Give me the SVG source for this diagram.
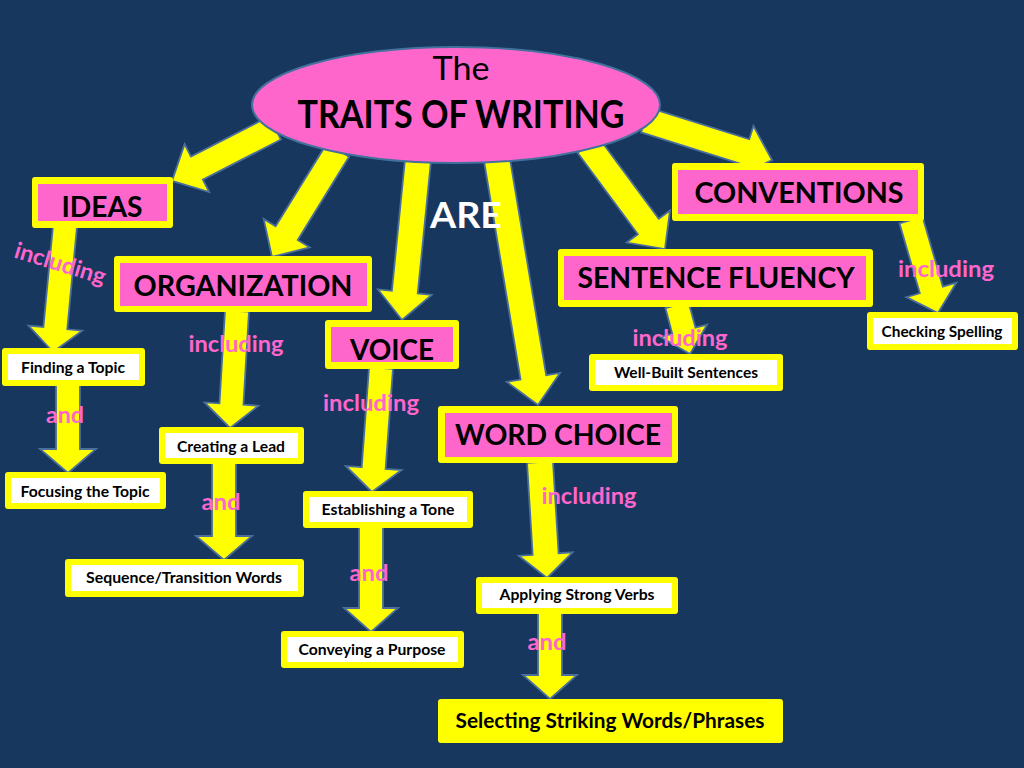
<svg xmlns="http://www.w3.org/2000/svg" width="1024" height="768" viewBox="0 0 1024 768">
<style>
.bg{fill:#17375E}
.arr{fill:#FFFF00;stroke:#4A6F9C;stroke-width:1.8;stroke-linejoin:miter}
.ybox{fill:#FFFF00}
.pink{fill:#FF66CC}
.white{fill:#FFFFFF}
.big{font-family:Lato,"Liberation Sans",sans-serif;font-weight:bold;font-size:29px;fill:#000;text-anchor:middle}
.small{font-family:Lato,"Liberation Sans",sans-serif;font-weight:bold;font-size:15.5px;fill:#000;text-anchor:middle}
.lbl{font-family:Lato,"Liberation Sans",sans-serif;font-weight:bold;font-size:23px;fill:#FF66CC;text-anchor:middle}
</style>
<rect class="bg" x="0" y="0" width="1024" height="768"/>
<g id="connectors">
<polygon class="arr" transform="translate(275,128) rotate(152.8)" points="0,-13 87.8,-13 87.8,-27 115.8,0 87.8,27 87.8,13 0,13"/>
<polygon class="arr" transform="translate(338,150) rotate(121.7)" points="0,-13 97.7,-13 97.7,-27 125.7,0 97.7,27 97.7,13 0,13"/>
<polygon class="arr" transform="translate(418,160) rotate(95.7)" points="0,-13 132.8,-13 132.8,-27 160.8,0 132.8,27 132.8,13 0,13"/>
<polygon class="arr" transform="translate(497,160) rotate(80.5)" points="0,-13 220.4,-13 220.4,-27 248.4,0 220.4,27 220.4,13 0,13"/>
<polygon class="arr" transform="translate(588,145) rotate(53.5)" points="0,-13 101.4,-13 101.4,-27 129.4,0 101.4,27 101.4,13 0,13"/>
<polygon class="arr" transform="translate(645,120) rotate(17.5)" points="0,-13 105.2,-13 105.2,-27 133.2,0 105.2,27 105.2,13 0,13"/>
<polygon class="arr" transform="translate(65,226) rotate(95.4)" points="0,-12 102.6,-12 102.6,-27 126.6,0 102.6,27 102.6,12 0,12"/>
<polygon class="arr" transform="translate(68,385) rotate(90)" points="0,-12 64,-12 64,-28 88,0 64,28 64,12 0,12"/>
<polygon class="arr" transform="translate(237,311) rotate(93.4)" points="0,-12 93.2,-12 93.2,-27 117.2,0 93.2,27 93.2,12 0,12"/>
<polygon class="arr" transform="translate(224,463) rotate(90)" points="0,-12 73,-12 73,-28 97,0 73,28 73,12 0,12"/>
<polygon class="arr" transform="translate(381,368) rotate(94.2)" points="0,-12 100.3,-12 100.3,-28 124.3,0 100.3,28 100.3,12 0,12"/>
<polygon class="arr" transform="translate(371,527) rotate(90)" points="0,-12 81,-12 81,-27 105,0 81,27 81,12 0,12"/>
<polygon class="arr" transform="translate(540,462) rotate(86.5)" points="0,-13 92.2,-13 92.2,-27 116.2,0 92.2,27 92.2,13 0,13"/>
<polygon class="arr" transform="translate(550,613) rotate(90)" points="0,-12 62,-12 62,-27 86,0 62,27 62,12 0,12"/>
<polygon class="arr" transform="translate(677,305) rotate(75.1)" points="0,-12 26.7,-12 26.7,-24 50.7,0 26.7,24 26.7,12 0,12"/>
<polygon class="arr" transform="translate(911,220) rotate(73.8)" points="0,-12 72.8,-12 72.8,-26 96.8,0 72.8,26 72.8,12 0,12"/>
<text class="lbl" transform="translate(58,271) rotate(17)" textLength="94" lengthAdjust="spacingAndGlyphs">including</text>
<text class="lbl" x="236" y="352" textLength="95" lengthAdjust="spacingAndGlyphs">including</text>
<text class="lbl" x="371" y="411" textLength="96" lengthAdjust="spacingAndGlyphs">including</text>
<text class="lbl" x="589" y="504" textLength="95" lengthAdjust="spacingAndGlyphs">including</text>
<text class="lbl" x="680" y="346" textLength="95" lengthAdjust="spacingAndGlyphs">including</text>
<text class="lbl" x="946" y="277" textLength="96" lengthAdjust="spacingAndGlyphs">including</text>
<text class="lbl" x="65" y="423" textLength="38" lengthAdjust="spacingAndGlyphs">and</text>
<text class="lbl" x="221" y="510" textLength="39" lengthAdjust="spacingAndGlyphs">and</text>
<text class="lbl" x="369" y="581" textLength="39" lengthAdjust="spacingAndGlyphs">and</text>
<text class="lbl" x="547" y="650" textLength="39" lengthAdjust="spacingAndGlyphs">and</text>
</g>
<g id="traits">
<ellipse cx="456" cy="105" rx="204" ry="58" fill="#FF66CC" stroke="#41719C" stroke-width="2"/>
<text x="461" y="80" font-family="Lato,'Liberation Sans',sans-serif" font-size="32" text-anchor="middle" fill="#000" textLength="57" lengthAdjust="spacingAndGlyphs">The</text>
<text x="461" y="128" font-family="Lato,'Liberation Sans',sans-serif" font-weight="bold" font-size="38" text-anchor="middle" fill="#000" textLength="327" lengthAdjust="spacingAndGlyphs">TRAITS OF WRITING</text>
</g>
<g id="are">
<text x="466" y="228" font-family="Lato,'Liberation Sans',sans-serif" font-weight="bold" font-size="36" text-anchor="middle" fill="#FFFFFF" textLength="72" lengthAdjust="spacingAndGlyphs">ARE</text>
</g>
<g id="ideas">
<rect class="ybox" x="32" y="177" width="141" height="51" rx="3"/>
<rect class="pink" x="38" y="184" width="129" height="37"/>
<text class="big" x="102" y="217" textLength="81" lengthAdjust="spacingAndGlyphs">IDEAS</text>
</g>
<g id="organization">
<rect class="ybox" x="114" y="256" width="258" height="56" rx="3"/>
<rect class="pink" x="120" y="263" width="247" height="43"/>
<text class="big" x="243" y="296" textLength="219" lengthAdjust="spacingAndGlyphs">ORGANIZATION</text>
</g>
<g id="voice">
<rect class="ybox" x="325" y="320" width="134" height="49" rx="3"/>
<rect class="pink" x="331" y="327" width="122" height="35"/>
<text class="big" x="392" y="360" textLength="84" lengthAdjust="spacingAndGlyphs">VOICE</text>
</g>
<g id="word-choice">
<rect class="ybox" x="438" y="406" width="240" height="57" rx="3"/>
<rect class="pink" x="445" y="413" width="227" height="44"/>
<text class="big" x="558" y="445" textLength="206" lengthAdjust="spacingAndGlyphs">WORD CHOICE</text>
</g>
<g id="sentence-fluency">
<rect class="ybox" x="558" y="249" width="315" height="58" rx="3"/>
<rect class="pink" x="564" y="256" width="302" height="44"/>
<text class="big" x="716" y="288" textLength="277" lengthAdjust="spacingAndGlyphs">SENTENCE FLUENCY</text>
</g>
<g id="conventions">
<rect class="ybox" x="672" y="163" width="252" height="58" rx="3"/>
<rect class="pink" x="678" y="170" width="240" height="44"/>
<text class="big" x="799" y="203" textLength="209" lengthAdjust="spacingAndGlyphs">CONVENTIONS</text>
</g>
<g id="finding-topic">
<rect class="ybox" x="2" y="348" width="143" height="38" rx="3"/>
<rect class="white" x="8" y="354" width="131" height="26"/>
<text class="small" x="73" y="373" textLength="104" lengthAdjust="spacingAndGlyphs">Finding a Topic</text>
</g>
<g id="focusing-topic">
<rect class="ybox" x="5" y="472" width="161" height="37" rx="3"/>
<rect class="white" x="11" y="478" width="149" height="25"/>
<text class="small" x="85" y="497" textLength="129" lengthAdjust="spacingAndGlyphs">Focusing the Topic</text>
</g>
<g id="creating-lead">
<rect class="ybox" x="159" y="427" width="145" height="37" rx="3"/>
<rect class="white" x="165" y="433" width="133" height="25"/>
<text class="small" x="231" y="452" textLength="108" lengthAdjust="spacingAndGlyphs">Creating a Lead</text>
</g>
<g id="sequence-transition">
<rect class="ybox" x="65" y="559" width="239" height="38" rx="3"/>
<rect class="white" x="71" y="565" width="227" height="26"/>
<text class="small" x="184" y="583" textLength="196" lengthAdjust="spacingAndGlyphs">Sequence/Transition Words</text>
</g>
<g id="establishing-tone">
<rect class="ybox" x="303" y="491" width="170" height="37" rx="3"/>
<rect class="white" x="309" y="497" width="158" height="25"/>
<text class="small" x="388" y="515" textLength="133" lengthAdjust="spacingAndGlyphs">Establishing a Tone</text>
</g>
<g id="conveying-purpose">
<rect class="ybox" x="281" y="631" width="183" height="37" rx="3"/>
<rect class="white" x="287" y="637" width="171" height="25"/>
<text class="small" x="372" y="655" textLength="147" lengthAdjust="spacingAndGlyphs">Conveying a Purpose</text>
</g>
<g id="applying-verbs">
<rect class="ybox" x="476" y="577" width="202" height="37" rx="3"/>
<rect class="white" x="482" y="583" width="190" height="25"/>
<text class="small" x="577" y="600" textLength="155" lengthAdjust="spacingAndGlyphs">Applying Strong Verbs</text>
</g>
<g id="selecting-words">
<rect class="ybox" x="438" y="699" width="345" height="44" rx="3"/>
<text class="small" x="610" y="728" font-size="20" textLength="309" lengthAdjust="spacingAndGlyphs" style="font-size:20px">Selecting Striking Words/Phrases</text>
</g>
<g id="well-built">
<rect class="ybox" x="589" y="354" width="194" height="37" rx="3"/>
<rect class="white" x="595" y="360" width="182" height="25"/>
<text class="small" x="686" y="378" textLength="144" lengthAdjust="spacingAndGlyphs">Well-Built Sentences</text>
</g>
<g id="checking-spelling">
<rect class="ybox" x="867" y="312" width="151" height="38" rx="3"/>
<rect class="white" x="873" y="318" width="139" height="26"/>
<text class="small" x="942" y="337" textLength="121" lengthAdjust="spacingAndGlyphs">Checking Spelling</text>
</g>
</svg>
